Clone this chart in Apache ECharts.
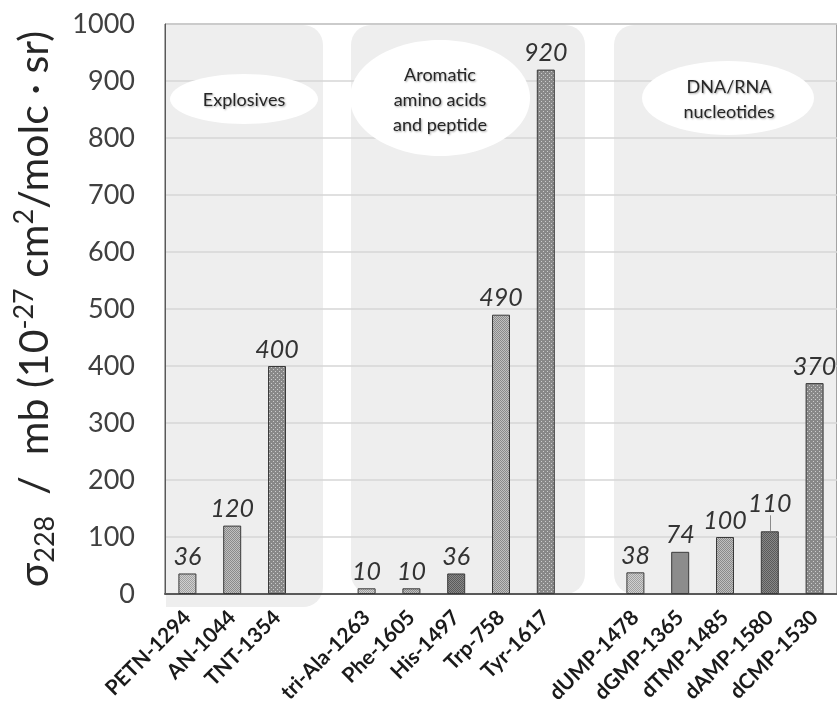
<!DOCTYPE html>
<html>
<head>
<meta charset="utf-8">
<script src="https://cdn.jsdelivr.net/npm/echarts@6/dist/echarts.min.js"></script>
<style>
  html, body { margin: 0; padding: 0; background: #fff; }
  #chart { width: 837px; height: 708px; }
</style>
</head>
<body>
<div id="chart"></div>
<script>
// Raman cross sections at 228 nm excitation, grouped by compound class.
// Empty names are spacer slots between the groups.
const categories = [
  'PETN-1294', 'AN-1044', 'TNT-1354', '',
  'tri-Ala-1263', 'Phe-1605', 'His-1497', 'Trp-758', 'Tyr-1617', ' ',
  'dUMP-1478', 'dGMP-1365', 'dTMP-1485', 'dAMP-1580', 'dCMP-1530'
];
const crossSections = [
  36, 120, 400, null,
  10, 10, 36, 490, 920, null,
  38, 74, 100, 110, 370
];
const groupNames = ['Explosives', 'Aromatic\namino acids\nand peptide', 'DNA/RNA\nnucleotides'];
const yTicks = { min: 0, max: 1000, step: 100 };

// Small tiled canvases used as stippled bar fills.
function makePattern(base, dot, kind) {
  const c = document.createElement('canvas');
  c.width = 4; c.height = 4;
  const g = c.getContext('2d');
  g.fillStyle = base; g.fillRect(0, 0, 4, 4);
  g.fillStyle = dot;
  if (kind === 'checker') {
    g.fillRect(0, 0, 1, 1); g.fillRect(2, 0, 1, 1);
    g.fillRect(1, 1, 1, 1); g.fillRect(3, 1, 1, 1);
    g.fillRect(0, 2, 1, 1); g.fillRect(2, 2, 1, 1);
    g.fillRect(1, 3, 1, 1); g.fillRect(3, 3, 1, 1);
  } else if (kind === 'dots') {
    g.fillRect(1, 1, 1, 1); g.fillRect(3, 3, 1, 1);
  }
  return { image: c, repeat: 'repeat' };
}
const fills = {
  light:    makePattern('#d0d0d0', '#a0a0a0', 'checker'),
  medium:   makePattern('#c0c0c0', '#8a8a8a', 'checker'),
  darkDots: makePattern('#888888', '#cccccc', 'dots'),
  dark:     makePattern('#888888', '#5a5a5a', 'checker'),
  solid:    makePattern('#8c8c8c', '#888888', 'none')
};
const fillByName = {
  'PETN-1294': 'light', 'AN-1044': 'medium', 'TNT-1354': 'darkDots',
  'tri-Ala-1263': 'light', 'Phe-1605': 'medium', 'His-1497': 'dark',
  'Trp-758': 'medium', 'Tyr-1617': 'darkDots',
  'dUMP-1478': 'light', 'dGMP-1365': 'solid', 'dTMP-1485': 'medium',
  'dAMP-1580': 'dark', 'dCMP-1530': 'darkDots'
};

const FONT = 'Lato, "Open Sans", sans-serif';

const barData = crossSections.map((v, i) => {
  const name = categories[i];
  if (v === null) return null;
  const item = {
    value: v,
    itemStyle: { color: fills[fillByName[name]] }
  };
  if (name === 'dAMP-1580') {
    // label lifted above a short leader line
    item.label = { offset: [0, -11] };
  }
  return item;
});

const chart = echarts.init(document.getElementById('chart'), null, { renderer: 'canvas' });

const bandText = {
  fill: '#262626',
  font: '18px ' + FONT,
  textAlign: 'center',
  textVerticalAlign: 'middle',
  lineHeight: 25,
  textShadowColor: 'rgba(0,0,0,0.35)',
  textShadowBlur: 2,
  textShadowOffsetX: 1,
  textShadowOffsetY: 1
};

chart.setOption({
  animation: false,
  backgroundColor: '#ffffff',
  grid: {
    left: 165, top: 24, width: 675, height: 570,
    show: true, borderColor: '#595959', borderWidth: 1,
    backgroundColor: 'transparent'
  },
  graphic: [
    // shaded group panels
    { type: 'rect', z: -1, shape: { x: 166, y: 25, width: 157, height: 582, r: [0, 20, 20, 0] },
      style: { fill: '#eeeeee' } },
    { type: 'rect', z: -1, shape: { x: 351, y: 25, width: 234, height: 569, r: [20, 20, 20, 20] },
      style: { fill: '#eeeeee' } },
    { type: 'rect', z: -1, shape: { x: 614, y: 25, width: 260, height: 569, r: [20, 20, 20, 20] },
      style: { fill: '#eeeeee' } },
    // group captions
    { type: 'ellipse', z: 1, shape: { cx: 244, cy: 99, rx: 74, ry: 25 }, style: { fill: '#ffffff' } },
    { type: 'ellipse', z: 1, shape: { cx: 440, cy: 98, rx: 90, ry: 58 }, style: { fill: '#ffffff' } },
    { type: 'ellipse', z: 1, shape: { cx: 728, cy: 98, rx: 86, ry: 37 }, style: { fill: '#ffffff' } },
    { type: 'text', z: 2, x: 244, y: 100, style: Object.assign({ text: groupNames[0] }, bandText) },
    { type: 'text', z: 2, x: 440, y: 100, style: Object.assign({ text: groupNames[1] }, bandText) },
    { type: 'text', z: 2, x: 729, y: 100, style: Object.assign({ text: groupNames[2] }, bandText) }
  ],
  xAxis: {
    type: 'category',
    data: categories,
    axisLine: { lineStyle: { color: '#595959', width: 2 } },
    axisTick: { show: false },
    axisLabel: {
      interval: 0, rotate: 45, margin: 20,
      fontFamily: FONT, fontWeight: 'bold', fontSize: 21, color: '#1a1a1a'
    }
  },
  yAxis: {
    type: 'value',
    min: yTicks.min, max: yTicks.max, interval: yTicks.step,
    axisLine: { show: true, lineStyle: { color: '#595959', width: 1 } },
    axisTick: { show: false },
    splitLine: { lineStyle: { color: '#d6d6d6', width: 1.5 } },
    axisLabel: {
      margin: 30, fontFamily: FONT, fontSize: 27, color: '#404040',
      formatter: (v) => String(v)
    },
    name: '{n|σ}{sub|228}{n|  /  mb (10}{sup|-27}{n| cm}{sup|2}{n|/molc · sr)}',
    nameLocation: 'middle',
    nameGap: 106,
    nameTextStyle: {
      color: '#262626',
      rich: {
        n: { fontFamily: FONT, fontSize: 41, color: '#262626', lineHeight: 48, verticalAlign: 'middle' },
        sub: { fontFamily: FONT, fontSize: 27, color: '#262626', lineHeight: 22, verticalAlign: 'bottom' },
        sup: { fontFamily: FONT, fontSize: 27, color: '#262626', lineHeight: 22, verticalAlign: 'top' }
      }
    }
  },
  series: [{
    type: 'bar',
    data: barData,
    barWidth: 18,
    itemStyle: { borderColor: '#3a3a3a', borderWidth: 1 },
    label: {
      show: true, position: 'top', distance: 4,
      fontFamily: FONT, fontStyle: 'italic', fontSize: 25, color: '#333333'
    },
    markLine: {
      silent: true,
      symbol: 'none',
      label: { show: false },
      lineStyle: { color: '#8a8a8a', width: 1, type: 'solid' },
      data: [[{ coord: ['dAMP-1580', 110] }, { coord: ['dAMP-1580', 138] }]]
    }
  }]
});
</script>
</body>
</html>
